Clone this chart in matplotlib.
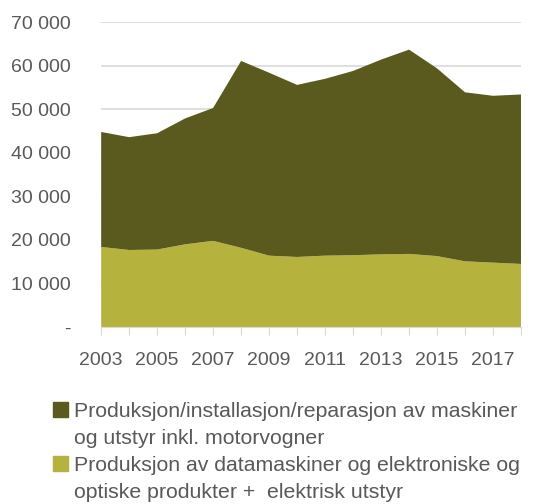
import matplotlib.pyplot as plt
import numpy as np

years = list(range(2003, 2019))
# Produksjon av datamaskiner ... (bottom layer)
data_el = [18400, 17700, 17800, 19000, 19800, 18200, 16400, 16100, 16400, 16500,
           16700, 16800, 16300, 15100, 14800, 14500]
# total (top edge of the stack)
total = [44800, 43600, 44500, 47900, 50300, 61100, 58400, 55600, 57000, 58800,
         61400, 63700, 59400, 53900, 53100, 53400]
maskiner = [t - d for t, d in zip(total, data_el)]

label_lines = [["Produksjon/installasjon/reparasjon av maskiner", "og utstyr inkl. motorvogner"],
               ["Produksjon av datamaskiner og elektroniske og", "optiske produkter +  elektrisk utstyr"]]
dark = "#5a5a1e"
light = "#b5b33e"
txt = "#595959"

plt.rcParams['font.family'] = ['Liberation Sans', 'DejaVu Sans']

fig = plt.figure(figsize=(5.41, 5.04), dpi=100)
ax = fig.add_axes([0.187, 0.351, 0.776, 0.605])

x = np.arange(len(years))
ax.stackplot(x, data_el, maskiner, colors=[light, dark], zorder=2)

ax.set_xlim(0, len(years) - 1)
ax.set_ylim(0, 70000)
yt = np.arange(0, 70001, 10000)
ax.set_yticks(yt)
ax.set_yticklabels(["-"] + [f"{v // 1000} 000" for v in yt[1:]])
ax.set_xticks(x)
ax.set_xticklabels([str(y) if (y - 2003) % 2 == 0 else "" for y in years])
ax.grid(axis="y", color="#d9d9d9", lw=1.2, zorder=0)
for s in ["top", "right", "left"]:
    ax.spines[s].set_visible(False)
ax.spines["bottom"].set_color("#d9d9d9")
ax.tick_params(axis="y", length=0, pad=22, labelsize=14, colors=txt)
ax.tick_params(axis="x", length=6, color="#d9d9d9", pad=12, labelsize=14, labelcolor=txt)

# legend: one row per text line, square only on the first line of each entry
handles, labels = [], []
for col, lines in zip([dark, light], label_lines):
    handles.append(plt.Rectangle((0, 0), 1, 1, color=col))
    labels.append(lines[0])
    handles.append(plt.Rectangle((0, 0), 1, 1, color="none"))
    labels.append(lines[1])
fig.legend(handles, labels, loc="upper left", bbox_to_anchor=(0.098, 0.202), frameon=False,
           fontsize=15.3, labelcolor=txt, handlelength=0.7, handleheight=0.7,
           handletextpad=0.3, labelspacing=0.37, borderaxespad=0, borderpad=0)

fig.savefig("out.png", dpi=100)
